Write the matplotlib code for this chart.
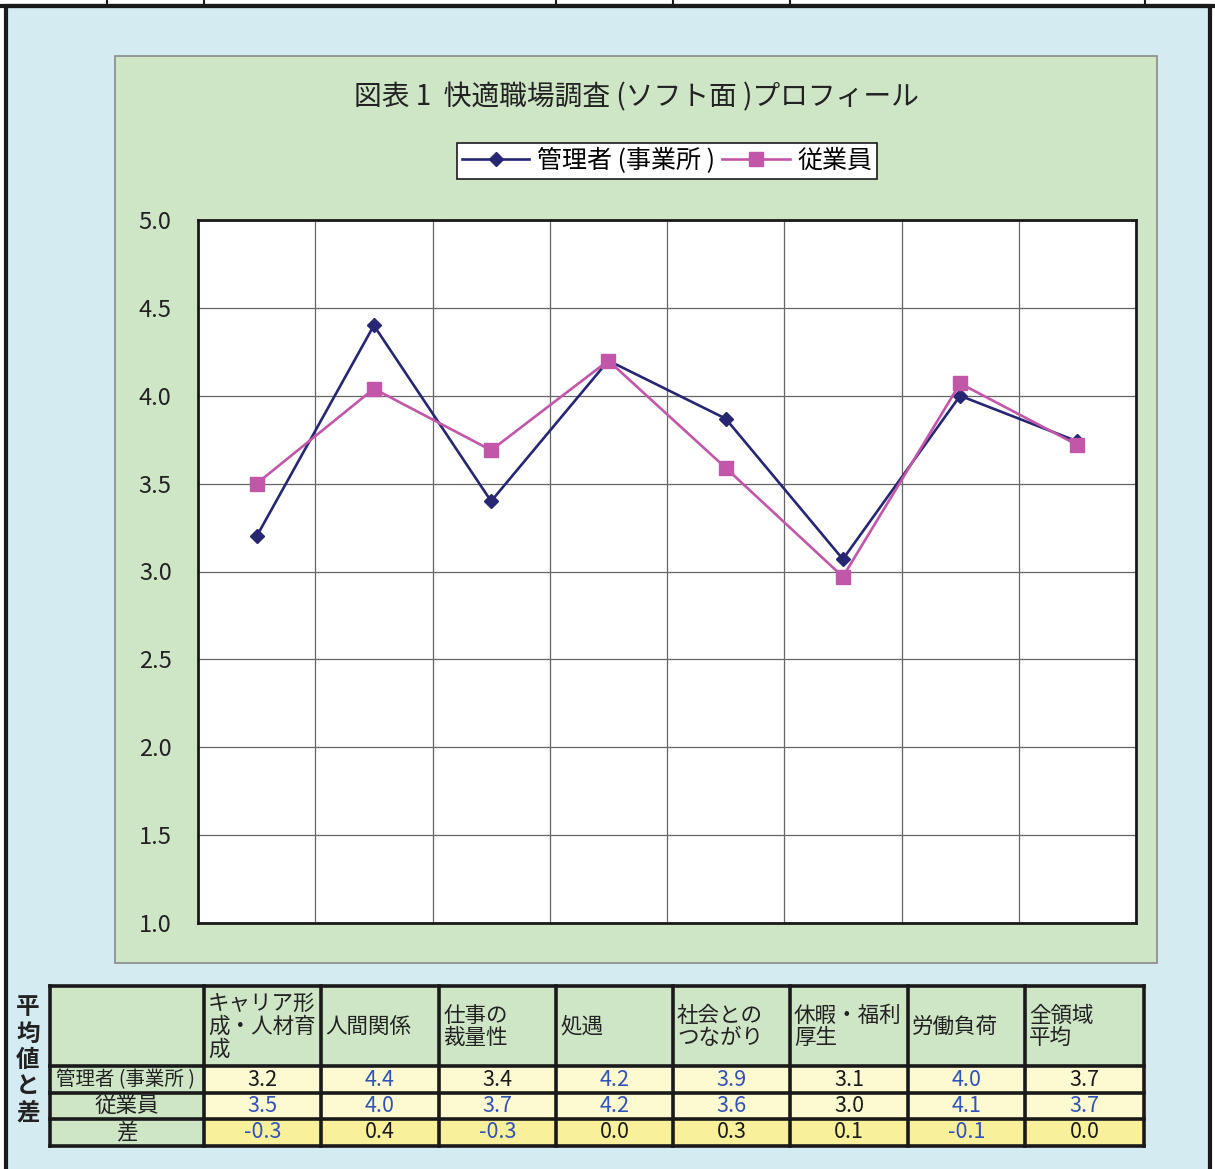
import numpy as np
import matplotlib.pyplot as plt
from matplotlib.patches import Rectangle

plt.rcParams['font.family'] = ['Noto Sans CJK JP', 'DejaVu Sans']

# -- Data --
categories = ['キャリア形\n成・人材育\n成', '人間関係', '仕事の\n裁量性', '処遇',
              '社会との\nつながり', '休暇・福利\n厚生', '労働負荷', '全領域\n平均']
manager = [3.20, 4.40, 3.40, 4.20, 3.87, 3.07, 4.00, 3.74]
employee = [3.50, 4.04, 3.69, 4.20, 3.59, 2.97, 4.07, 3.72]
manager_txt = ['3.2', '4.4', '3.4', '4.2', '3.9', '3.1', '4.0', '3.7']
employee_txt = ['3.5', '4.0', '3.7', '4.2', '3.6', '3.0', '4.1', '3.7']
diff_txt = ['-0.3', '0.4', '-0.3', '0.0', '0.3', '0.1', '-0.1', '0.0']
row_labels = ['管理者 (事業所 )', '従業員', '差']
series_labels = ['管理者 (事業所 )', '従業員']
yticks = [1.0, 1.5, 2.0, 2.5, 3.0, 3.5, 4.0, 4.5, 5.0]
title = '図表 1  快適職場調査 (ソフト面 )プロフィール'

# which table cells are printed in blue (1) or black (0)
manager_blue = [0, 1, 0, 1, 1, 0, 1, 0]
employee_blue = [1, 1, 1, 1, 1, 0, 1, 1]
diff_blue = [1, 0, 1, 0, 0, 0, 1, 0]

# -- colours --
sky = '#d3ebf1'
green = '#cfe6c6'
cream = '#fdf9d0'
yellow = '#f9f09c'
navy = '#262673'
pink = '#c256a8'
blue_txt = '#3152b8'

W, H = 1215, 1169
fig = plt.figure(figsize=(W / 100, H / 100), dpi=100)

# background axis in pixel coordinates
bg = fig.add_axes([0, 0, 1, 1])
bg.set_xlim(0, W)
bg.set_ylim(H, 0)
bg.axis('off')

# outer frame
bg.add_patch(Rectangle((6, 6), 1204, 1180, facecolor=sky, edgecolor='#1a1a1a', lw=3))
bg.plot([0, W], [6, 6], color='#1a1a1a', lw=3)
for xt in [107, 204, 556, 673, 790, 1145]:
    bg.plot([xt, xt], [0, 6], color='#1a1a1a', lw=1.5)

# chart area
bg.add_patch(Rectangle((115, 56), 1042, 907, facecolor=green, edgecolor='#8a8a8a', lw=1.2))
bg.text(636, 97, title, ha='center', va='center', fontsize=20, color='#222222')

# -- the line chart --
ax = fig.add_axes([198 / W, 1 - 923 / H, 938 / W, 703 / H])
x = np.arange(len(manager)) + 0.5
ax.plot(x, manager, color=navy, lw=1.9, marker='D', ms=7.5, label=series_labels[0], zorder=3)
ax.plot(x, employee, color=pink, lw=1.9, marker='s', ms=9.5, label=series_labels[1], zorder=3)
ax.set_xlim(0, len(manager))
ax.set_ylim(1, 5)
ax.set_yticks(yticks)
ax.set_yticklabels([f'{v:.1f}' for v in yticks], fontsize=17, color='#222222')
ax.set_xticks(np.arange(1, len(manager)))
ax.set_xticklabels([])
ax.tick_params(length=0, pad=19)
ax.grid(True, color='#666666', lw=0.9)
ax.set_axisbelow(True)
for s in ax.spines.values():
    s.set_color('#1a1a1a')
    s.set_linewidth(2)

leg = ax.legend(loc='center', bbox_to_anchor=(667 / W, 1 - 161 / H), bbox_transform=fig.transFigure,
                ncol=2, fontsize=18, frameon=True, fancybox=False, edgecolor='#1a1a1a',
                framealpha=1, handlelength=2.7, handletextpad=0.3, columnspacing=0.3,
                borderpad=0.2, borderaxespad=0)
leg.get_frame().set_linewidth(1.2)

# -- table below the chart --
col_edges = [50, 204, 321, 439, 556, 673, 790, 908, 1025, 1144]
row_edges = [986, 1066, 1093, 1119, 1146]
fills = [green, cream, cream, yellow]
for r in range(4):
    for c in range(9):
        fc = green if c == 0 or r == 0 else fills[r]
        bg.add_patch(Rectangle((col_edges[c], row_edges[r]), col_edges[c + 1] - col_edges[c],
                               row_edges[r + 1] - row_edges[r], facecolor=fc, edgecolor='none'))
for yy in row_edges:
    bg.plot([col_edges[0], col_edges[-1]], [yy, yy], color='#1a1a1a', lw=2.6, solid_capstyle='projecting')
for xx in col_edges:
    bg.plot([xx, xx], [row_edges[0], row_edges[-1]], color='#1a1a1a', lw=2.6, solid_capstyle='projecting')

for c, name in enumerate(categories):
    bg.text(col_edges[c + 1] + 4, (row_edges[0] + row_edges[1]) / 2 + 1, name, ha='left', va='center',
            fontsize=15.5, color='#222222', linespacing=1.05)

rows = [(manager_txt, manager_blue), (employee_txt, employee_blue), (diff_txt, diff_blue)]
for r, (vals, blues) in enumerate(rows):
    yc = (row_edges[r + 1] + row_edges[r + 2]) / 2
    if r == 0:
        bg.text(col_edges[0] + 6, yc, row_labels[r], ha='left', va='center', fontsize=14, color='#222222')
    else:
        bg.text((col_edges[0] + col_edges[1]) / 2, yc, row_labels[r], ha='center', va='center',
                fontsize=15.5, color='#222222')
    for c, v in enumerate(vals):
        bg.text((col_edges[c + 1] + col_edges[c + 2]) / 2, yc, v, ha='center', va='center',
                fontsize=15.5, color=blue_txt if blues[c] else '#1a1a1a')

bg.text(28, 1060, '平\n均\n値\nと\n差', ha='center', va='center', fontsize=17,
        fontweight='bold', color='#222222', linespacing=1.12)

fig.savefig('out.png', dpi=100)
